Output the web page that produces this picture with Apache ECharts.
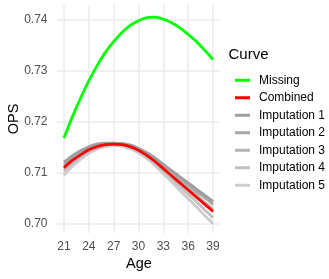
<!DOCTYPE html>
<html><head><meta charset="utf-8">
<script src="https://cdn.jsdelivr.net/npm/echarts@6/dist/echarts.min.js"></script>
<style>html,body{margin:0;padding:0;background:#fff}#c{width:329px;height:279px}</style>
</head><body><div id="c"></div>
<script>
const ages = [21,22,23,24,25,26,27,28,29,30,31,32,33,34,35,36,37,38,39];
const xTicks = [21,24,27,30,33,36,39];
const yTicks = [0.70,0.71,0.72,0.73,0.74];
const missing  = [0.7168,0.7209,0.7246,0.7280,0.7310,0.7336,0.7357,0.7375,0.7389,0.7398,0.7404,0.7405,0.7401,0.7394,0.7384,0.7371,0.7357,0.7340,0.7322];
const combined = [0.7110,0.7124,0.7135,0.7145,0.7151,0.7155,0.7156,0.7155,0.7151,0.7144,0.7134,0.7122,0.7108,0.7094,0.7080,0.7066,0.7052,0.7038,0.7024];
const imp1 = [0.7121,0.7133,0.7143,0.7151,0.7156,0.7158,0.7158,0.7157,0.7154,0.7147,0.7139,0.7128,0.7116,0.7104,0.7092,0.7080,0.7068,0.7056,0.7044];
const imp2 = [0.7116,0.7129,0.7139,0.7148,0.7153,0.7157,0.7157,0.7157,0.7154,0.7148,0.7139,0.7129,0.7116,0.7103,0.7089,0.7076,0.7063,0.7051,0.7038];
const imp3 = [0.7108,0.7122,0.7134,0.7144,0.7150,0.7155,0.7156,0.7156,0.7152,0.7146,0.7136,0.7125,0.7111,0.7097,0.7083,0.7069,0.7056,0.7042,0.7028];
const imp4 = [0.7103,0.7118,0.7131,0.7142,0.7149,0.7153,0.7155,0.7154,0.7149,0.7142,0.7131,0.7119,0.7104,0.7089,0.7073,0.7058,0.7043,0.7027,0.7012];
const imp5 = [0.7095,0.7112,0.7126,0.7138,0.7146,0.7151,0.7153,0.7152,0.7147,0.7139,0.7128,0.7114,0.7098,0.7082,0.7065,0.7049,0.7033,0.7016,0.7000];
const seriesNames = ['Missing','Combined','Imputation 1','Imputation 2','Imputation 3','Imputation 4','Imputation 5'];
const seriesData = [missing, combined, imp1, imp2, imp3, imp4, imp5];
const colors = ['#00ff00','#ff0000','#9e9e9e','#a8a8a8','#b5b5b5','#c0c0c0','#cdcdcd'];
const zs = [5,4,3,3,3,3,3];

const font = 'Liberation Sans, Arial, Helvetica, sans-serif';
const chart = echarts.init(document.getElementById('c'), null, {renderer:'canvas'});
const series = seriesNames.map((n,i)=>({
  name:n, type:'line', smooth:0.3, symbol:'none', z:zs[i],
  lineStyle:{color:colors[i], width:2.8}, itemStyle:{color:colors[i]},
  data: ages.map((a,j)=>[a, seriesData[i][j]])
})).reverse();
chart.setOption({
  animation:false,
  grid:{left:56.5, right:108.5, top:5, bottom:46, containLabel:false},
  xAxis:{type:'value', min:20.1, max:39.9,
    axisLine:{show:false},
    axisTick:{show:false, customValues:xTicks},
    axisLabel:{customValues:xTicks, color:'#4d4d4d', fontSize:12, fontFamily:font, margin:8},
    splitLine:{show:true, lineStyle:{color:'#ebebeb', width:1.5}}},
  yAxis:{type:'value', min:0.69818, max:0.74288,
    axisLine:{show:false},
    axisTick:{show:false, customValues:yTicks},
    axisLabel:{customValues:yTicks, color:'#4d4d4d', fontSize:12, fontFamily:font, margin:9,
      formatter:v=>v.toFixed(2)},
    splitLine:{show:true, lineStyle:{color:'#ebebeb', width:1.5}}},
  legend:{orient:'vertical', left:230, top:66.5, itemGap:0, itemWidth:15, itemHeight:3, icon:'rect',
    data:seriesNames,
    textStyle:{fontSize:12, fontFamily:font, color:'#000', lineHeight:17.5, padding:[0,0,0,4]}},
  graphic:[
    {type:'text', left:228.5, top:47, style:{text:'Curve', fontSize:15, fontFamily:font, fill:'#000'}},
    {type:'text', x:139, y:263.5, style:{text:'Age', fontSize:14.5, fontFamily:font, fill:'#000', align:'center', verticalAlign:'middle'}},
    {type:'text', x:13.5, y:119, rotation:Math.PI/2, style:{text:'OPS', fontSize:14.5, fontFamily:font, fill:'#000', align:'center', verticalAlign:'middle'}}
  ],
  series:series
});
</script></body></html>
